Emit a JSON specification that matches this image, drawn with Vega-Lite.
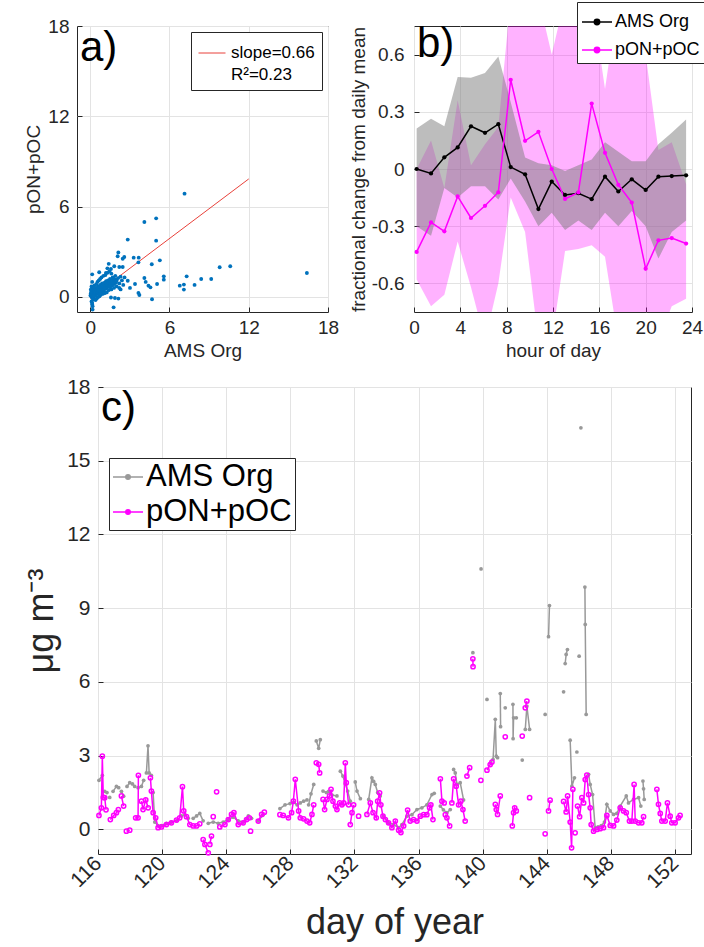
{
"$schema": "https://vega.github.io/schema/vega-lite/v6.json",
"background": "white",
"padding": {"left": 23, "top": 1, "right": 2, "bottom": 2},
"autosize": {"type": "pad"},
"config": {
  "font": "Liberation Sans",
  "view": {"stroke": "#262626", "strokeWidth": 1},
  "axis": {"domain": false, "ticks": true, "tickSize": -5, "tickColor": "#262626", "tickWidth": 1, "grid": true, "gridColor": "#e3e3e3", "gridWidth": 1, "labelColor": "#262626", "titleColor": "#262626", "titleFontWeight": "normal", "labelFlush": false, "labelOverlap": false, "labelFont": "Liberation Sans", "titleFont": "Liberation Sans"},
  "title": {"anchor": "start", "frame": "group", "fontSize": 42, "fontWeight": "normal", "color": "black", "font": "Liberation Sans"},
  "legend": {"labelFont": "Liberation Sans", "labelColor": "black", "labelLimit": 300}
},
"datasets": {
  "fit": [{"x": 0, "y": -0.08}, {"x": 12, "y": 7.84}],
  "sc": [
    {"x":7.14,"y":6.86},{"x":4.1,"y":4.98},{"x":4.99,"y":5.22},{"x":2.84,"y":3.81},{"x":4.99,"y":3.74},{"x":2.13,"y":2.96},{"x":2.58,"y":2.65},{"x":3.29,"y":2.61},{"x":3.67,"y":2.61},{"x":3.65,"y":2.3},{"x":5.27,"y":2.43},{"x":4.66,"y":2.17},{"x":9.8,"y":1.97},{"x":10.6,"y":2.04},{"x":16.4,"y":1.59},{"x":7.3,"y":1.37},{"x":8.4,"y":1.19},{"x":9.16,"y":1.19},{"x":5.57,"y":1.37},{"x":5.57,"y":1.15},{"x":4.1,"y":1.26},{"x":4.2,"y":1.0},{"x":5.06,"y":0.86},{"x":4.41,"y":0.75},{"x":4.56,"y":0.64},{"x":2.84,"y":1.08},{"x":3.39,"y":0.86},{"x":3.01,"y":0.6},{"x":3.65,"y":0.27},{"x":3.72,"y":0.13},{"x":4.68,"y":-0.15},{"x":6.78,"y":0.75},{"x":7.09,"y":0.82},{"x":7.09,"y":0.49},{"x":7.9,"y":0.8},{"x":1.77,"y":-0.69},{"x":1.57,"y":-0.04},{"x":1.87,"y":-0.07},{"x":2.13,"y":-0.11},{"x":0.18,"y":-0.84},{"x":0.18,"y":-0.62},{"x":0.15,"y":-0.4},{"x":0.68,"y":1.64},{"x":0.15,"y":1.5},{"x":1.57,"y":1.86},{"x":1.82,"y":2.04},{"x":2.2,"y":1.99},{"x":2.46,"y":1.99},{"x":1.19,"y":1.59},{"x":2.08,"y":2.7},{"x":2.46,"y":2.54},{"x":1.4,"y":2.2},{"x":1.3,"y":1.9},
    {"x":0.1,"y":0.0},{"x":0.15,"y":0.1},{"x":0.2,"y":-0.1},{"x":0.2,"y":0.2},{"x":0.25,"y":0.3},{"x":0.3,"y":0.05},{"x":0.3,"y":0.4},{"x":0.35,"y":0.2},{"x":0.4,"y":0.5},{"x":0.4,"y":0.1},{"x":0.45,"y":0.3},{"x":0.5,"y":0.6},{"x":0.5,"y":0.2},{"x":0.55,"y":0.4},{"x":0.6,"y":0.7},{"x":0.6,"y":0.3},{"x":0.65,"y":0.5},{"x":0.7,"y":0.2},{"x":0.7,"y":0.6},{"x":0.75,"y":0.8},{"x":0.8,"y":0.4},{"x":0.8,"y":0.55},{"x":0.85,"y":0.7},{"x":0.9,"y":0.3},{"x":0.9,"y":0.9},{"x":0.95,"y":0.5},{"x":1.0,"y":0.65},{"x":1.0,"y":0.8},{"x":1.05,"y":0.4},{"x":1.1,"y":0.7},{"x":1.1,"y":0.95},{"x":1.15,"y":0.55},{"x":1.2,"y":0.8},{"x":1.2,"y":1.05},{"x":1.25,"y":0.6},{"x":1.3,"y":0.9},{"x":1.3,"y":0.7},{"x":1.35,"y":1.1},{"x":1.4,"y":0.8},{"x":1.45,"y":1.0},{"x":1.5,"y":0.65},{"x":1.5,"y":1.2},{"x":1.55,"y":0.9},{"x":1.6,"y":1.05},{"x":1.65,"y":0.75},{"x":1.7,"y":1.3},{"x":1.75,"y":1.0},{"x":1.8,"y":0.85},{"x":1.85,"y":1.15},{"x":1.9,"y":1.4},{"x":1.95,"y":0.95},{"x":2.0,"y":1.1},{"x":2.1,"y":1.25},{"x":2.2,"y":0.9},{"x":2.3,"y":1.35},{"x":2.4,"y":1.1},{"x":0.05,"y":0.5},{"x":0.1,"y":0.7},{"x":0.15,"y":1.0},{"x":0.1,"y":-0.3},{"x":0.15,"y":-0.5},{"x":0.2,"y":0.55},{"x":0.3,"y":0.75},{"x":0.35,"y":0.6},{"x":0.45,"y":0.85},{"x":0.55,"y":1.0},{"x":0.65,"y":1.1},{"x":0.75,"y":1.2},{"x":0.85,"y":1.3},{"x":1.0,"y":1.4},{"x":1.15,"y":1.45},{"x":1.3,"y":1.6},{"x":1.45,"y":1.7},{"x":1.6,"y":1.55},{"x":0.05,"y":0.25},{"x":0.25,"y":-0.15},{"x":0.4,"y":-0.2},{"x":0.5,"y":-0.1},{"x":0.6,"y":0.0},{"x":0.7,"y":0.05},{"x":0.8,"y":0.15},{"x":0.95,"y":0.2},{"x":1.1,"y":0.25},{"x":1.25,"y":0.3},{"x":1.4,"y":0.45},{"x":1.6,"y":0.5},{"x":1.8,"y":0.6},{"x":2.0,"y":0.7},{"x":2.2,"y":0.6},{"x":2.5,"y":0.8},{"x":2.6,"y":1.3},{"x":2.3,"y":0.5},{"x":0.02,"y":0.1},{"x":0.08,"y":0.35},{"x":0.12,"y":0.15},{"x":0.18,"y":0.45},{"x":0.22,"y":0.05},{"x":0.28,"y":0.25},{"x":0.33,"y":0.45},{"x":0.38,"y":0.32},{"x":0.48,"y":0.45},{"x":0.52,"y":0.35},{"x":0.58,"y":0.55},{"x":0.62,"y":0.42},{"x":0.68,"y":0.68},{"x":0.72,"y":0.4},{"x":0.78,"y":0.62},{"x":0.88,"y":0.48},{"x":0.92,"y":0.75},{"x":0.98,"y":0.58},{"x":1.02,"y":0.9},{"x":1.08,"y":0.6},{"x":1.18,"y":0.75},{"x":1.22,"y":0.92},{"x":1.28,"y":0.8},{"x":1.38,"y":0.95},{"x":1.42,"y":0.7},{"x":1.52,"y":1.0},{"x":1.58,"y":0.85},{"x":1.68,"y":1.1},{"x":1.72,"y":0.95},{"x":1.82,"y":1.2},{"x":1.92,"y":1.05}
  ],
  "ba": [
    {"h":0.23,"m":0,"lo":-0.3,"hi":0.212},{"h":1.47,"m":-0.023,"lo":-0.35,"hi":0.264},{"h":2.62,"m":0.061,"lo":-0.1,"hi":0.224},{"h":3.77,"m":0.113,"lo":-0.15,"hi":0.482},{"h":4.92,"m":0.224,"lo":-0.09,"hi":0.478},{"h":6.13,"m":0.19,"lo":-0.09,"hi":0.503},{"h":7.28,"m":0.235,"lo":-0.16,"hi":0.59},{"h":8.35,"m":0.01,"lo":-0.05,"hi":0.35},{"h":9.59,"m":-0.028,"lo":-0.17,"hi":0.06},{"h":10.74,"m":-0.21,"lo":-0.3,"hi":0.03},{"h":11.89,"m":-0.066,"lo":-0.23,"hi":0.02},{"h":13.04,"m":-0.136,"lo":-0.32,"hi":-0.01},{"h":14.19,"m":-0.127,"lo":-0.27,"hi":0.02},{"h":15.34,"m":-0.158,"lo":-0.32,"hi":0.05},{"h":16.49,"m":-0.04,"lo":-0.23,"hi":0.14},{"h":17.64,"m":-0.118,"lo":-0.3,"hi":0.09},{"h":18.8,"m":-0.054,"lo":-0.22,"hi":0.04},{"h":20.0,"m":-0.11,"lo":-0.3,"hi":0.04},{"h":21.1,"m":-0.04,"lo":-0.47,"hi":0.13},{"h":22.25,"m":-0.037,"lo":-0.33,"hi":0.19},{"h":23.49,"m":-0.033,"lo":-0.27,"hi":0.26}
  ],
  "bp": [
    {"h":0.23,"m":-0.435,"lo":-0.58,"hi":0.0},{"h":1.47,"m":-0.28,"lo":-0.72,"hi":0.15},{"h":2.62,"m":-0.327,"lo":-0.66,"hi":-0.1},{"h":3.77,"m":-0.144,"lo":-0.38,"hi":0.36},{"h":4.92,"m":-0.257,"lo":-0.62,"hi":0.02},{"h":6.13,"m":-0.193,"lo":-0.9,"hi":0.13},{"h":7.28,"m":-0.122,"lo":-0.6,"hi":0.22},{"h":8.35,"m":0.468,"lo":-0.15,"hi":0.9},{"h":9.59,"m":0.148,"lo":-0.33,"hi":0.9},{"h":10.74,"m":0.195,"lo":-0.9,"hi":0.9},{"h":11.89,"m":0.0,"lo":-0.9,"hi":0.6},{"h":13.04,"m":-0.157,"lo":-0.43,"hi":0.9},{"h":14.19,"m":-0.123,"lo":-0.42,"hi":0.9},{"h":15.34,"m":0.343,"lo":-0.4,"hi":0.9},{"h":16.49,"m":0.085,"lo":-0.46,"hi":0.42},{"h":17.64,"m":-0.083,"lo":-0.9,"hi":0.9},{"h":18.8,"m":-0.176,"lo":-0.9,"hi":0.9},{"h":20.0,"m":-0.523,"lo":-0.9,"hi":0.6},{"h":21.1,"m":-0.374,"lo":-0.9,"hi":0.1},{"h":22.25,"m":-0.362,"lo":-0.72,"hi":0.14},{"h":23.49,"m":-0.391,"lo":-0.68,"hi":-0.08}
  ],
  "ca": [
    {"d":116.06,"v":2.0,"g":1},{"d":116.27,"v":2.2,"g":1},
    {"d":116.42,"v":1.55,"g":2},{"d":116.56,"v":1.5,"g":2},
    {"d":116.73,"v":1.3,"g":3},
    {"d":116.94,"v":1.55,"g":4},{"d":117.15,"v":1.75,"g":4},{"d":117.29,"v":1.7,"g":4},
    {"d":117.46,"v":1.55,"g":5},{"d":117.6,"v":1.35,"g":5},
    {"d":117.81,"v":1.75,"g":6},{"d":117.98,"v":1.9,"g":6},
    {"d":118.15,"v":1.85,"g":7},{"d":118.29,"v":1.75,"g":7},
    {"d":118.5,"v":1.7,"g":8},{"d":118.71,"v":1.75,"g":8},{"d":118.85,"v":2.0,"g":8},
    {"d":119.02,"v":2.3,"g":9},{"d":119.12,"v":3.4,"g":9},{"d":119.19,"v":2.3,"g":9},{"d":119.33,"v":2.2,"g":9},
    {"d":119.44,"v":1.5,"g":10},{"d":119.54,"v":0.3,"g":10},{"d":119.75,"v":0.15,"g":10},{"d":119.96,"v":0.15,"g":10},{"d":120.27,"v":0.25,"g":10},{"d":120.58,"v":0.3,"g":10},{"d":120.9,"v":0.35,"g":10},
    {"d":121.21,"v":0.55,"g":11},{"d":121.42,"v":0.6,"g":11},{"d":121.63,"v":0.45,"g":11},
    {"d":121.94,"v":0.45,"g":12},{"d":122.15,"v":0.55,"g":12},{"d":122.35,"v":0.65,"g":12},{"d":122.56,"v":0.35,"g":12},
    {"d":122.88,"v":0.25,"g":13},{"d":123.19,"v":0.3,"g":13},{"d":123.5,"v":0.25,"g":13},{"d":123.81,"v":0.3,"g":13},{"d":124.13,"v":0.4,"g":13},{"d":124.44,"v":0.5,"g":13},{"d":124.75,"v":0.35,"g":13},{"d":125.06,"v":0.3,"g":13},{"d":125.38,"v":0.55,"g":13},{"d":125.58,"v":0.45,"g":13},
    {"d":126.0,"v":0.35,"g":14},{"d":126.31,"v":0.6,"g":14},
    {"d":127.35,"v":0.85,"g":15},{"d":127.67,"v":1.0,"g":15},{"d":127.98,"v":1.05,"g":15},{"d":128.21,"v":1.1,"g":15},{"d":128.42,"v":1.0,"g":15},{"d":128.62,"v":1.08,"g":15},{"d":128.83,"v":1.15,"g":15},{"d":129.04,"v":1.2,"g":15},
    {"d":129.14,"v":1.0,"g":16},{"d":129.29,"v":1.45,"g":16},{"d":129.46,"v":1.83,"g":16},
    {"d":129.62,"v":3.6,"g":17},{"d":129.77,"v":3.3,"g":17},{"d":129.87,"v":3.65,"g":17},
    {"d":130.04,"v":1.56,"g":18},{"d":130.25,"v":1.5,"g":18},{"d":130.39,"v":1.55,"g":18},{"d":130.6,"v":1.4,"g":18},{"d":130.91,"v":1.36,"g":18},
    {"d":131.12,"v":2.37,"g":19},{"d":131.28,"v":2.17,"g":19},{"d":131.43,"v":1.85,"g":19},{"d":131.58,"v":1.56,"g":19},{"d":131.74,"v":1.15,"g":19},
    {"d":132.05,"v":1.93,"g":20},{"d":132.16,"v":1.56,"g":20},{"d":132.37,"v":1.25,"g":20},
    {"d":132.89,"v":1.22,"g":21},{"d":133.09,"v":2.1,"g":21},{"d":133.2,"v":1.95,"g":21},{"d":133.3,"v":1.83,"g":21},{"d":133.45,"v":1.5,"g":21},{"d":133.61,"v":1.36,"g":21},
    {"d":133.82,"v":0.54,"g":22},{"d":134.13,"v":0.27,"g":22},{"d":134.44,"v":0.2,"g":22},{"d":134.76,"v":0.07,"g":22},{"d":134.96,"v":0.2,"g":22},{"d":135.28,"v":0.54,"g":22},{"d":135.59,"v":0.6,"g":22},{"d":135.9,"v":0.81,"g":22},{"d":136.21,"v":0.88,"g":22},{"d":136.52,"v":1.0,"g":22},{"d":136.84,"v":1.42,"g":22},{"d":136.98,"v":1.47,"g":22},
    {"d":137.36,"v":0.95,"g":23},{"d":137.55,"v":0.8,"g":23},{"d":137.77,"v":0.68,"g":23},{"d":137.98,"v":0.81,"g":23},
    {"d":138.19,"v":2.44,"g":24},{"d":138.29,"v":2.3,"g":24},{"d":138.4,"v":1.83,"g":24},{"d":138.6,"v":1.9,"g":24},{"d":138.81,"v":1.2,"g":24},
    {"d":139.39,"v":7.19,"g":25},
    {"d":139.9,"v":10.6,"g":26},
    {"d":140.27,"v":5.29,"g":27},
    {"d":140.5,"v":2.7,"g":28},{"d":140.65,"v":2.85,"g":28},{"d":140.79,"v":4.48,"g":28},{"d":140.85,"v":2.98,"g":28},{"d":140.93,"v":2.92,"g":28},
    {"d":141.1,"v":5.53,"g":29},{"d":141.12,"v":4.18,"g":29},
    {"d":141.41,"v":4.95,"g":30},
    {"d":141.89,"v":5.09,"g":31},{"d":141.9,"v":3.69,"g":31},{"d":141.93,"v":4.54,"g":31},{"d":142.1,"v":4.54,"g":31},
    {"d":142.47,"v":2.82,"g":32},
    {"d":142.66,"v":4.07,"g":33},{"d":142.76,"v":5.02,"g":33},{"d":142.93,"v":4.07,"g":33},
    {"d":143.9,"v":4.68,"g":34},
    {"d":144.11,"v":7.84,"g":35},{"d":144.17,"v":9.11,"g":35},
    {"d":145.05,"v":5.6,"g":36},
    {"d":145.15,"v":6.75,"g":37},{"d":145.21,"v":7.12,"g":37},{"d":145.29,"v":7.32,"g":37},
    {"d":145.46,"v":3.63,"g":38},{"d":145.57,"v":1.76,"g":38},{"d":145.73,"v":2.1,"g":38},
    {"d":145.88,"v":3.15,"g":39},
    {"d":146.02,"v":7.05,"g":40},
    {"d":146.13,"v":16.34,"g":41},
    {"d":146.38,"v":9.86,"g":42},{"d":146.4,"v":8.34,"g":42},{"d":146.46,"v":4.68,"g":42},
    {"d":146.61,"v":2.24,"g":43},{"d":146.71,"v":1.83,"g":43},{"d":146.86,"v":1.42,"g":43},{"d":147.02,"v":0.07,"g":43},{"d":147.2,"v":0.1,"g":43},{"d":147.4,"v":0.15,"g":43},{"d":147.6,"v":0.3,"g":43},{"d":147.75,"v":1.02,"g":43},{"d":147.96,"v":0.75,"g":43},{"d":148.17,"v":0.61,"g":43},{"d":148.37,"v":0.65,"g":43},{"d":148.58,"v":0.95,"g":43},{"d":148.96,"v":1.36,"g":43},{"d":149.1,"v":1.08,"g":43},{"d":149.41,"v":1.22,"g":43},{"d":149.73,"v":1.29,"g":43},{"d":149.87,"v":0.95,"g":43},
    {"d":150.0,"v":1.97,"g":44},{"d":150.04,"v":1.65,"g":44},{"d":150.08,"v":1.22,"g":44}
  ],
  "cp": [
    {"d":116.06,"v":0.57,"g":1},{"d":116.21,"v":0.88,"g":1},{"d":116.27,"v":2.98,"g":1},{"d":116.33,"v":1.3,"g":1},{"d":116.42,"v":1.29,"g":1},{"d":116.5,"v":0.8,"g":1},
    {"d":116.77,"v":0.4,"g":2},{"d":116.98,"v":0.57,"g":2},{"d":117.15,"v":0.68,"g":2},{"d":117.27,"v":0.81,"g":2},
    {"d":117.46,"v":1.36,"g":3},{"d":117.6,"v":0.95,"g":3},
    {"d":117.77,"v":-0.07,"g":4},{"d":117.98,"v":-0.03,"g":4},
    {"d":118.35,"v":0.47,"g":5},{"d":118.5,"v":0.47,"g":5},{"d":118.52,"v":2.2,"g":5},
    {"d":118.71,"v":1.15,"g":6},{"d":118.81,"v":0.81,"g":6},{"d":118.98,"v":1.2,"g":6},{"d":119.13,"v":0.88,"g":6},
    {"d":119.27,"v":2.1,"g":7},{"d":119.33,"v":1.56,"g":7},{"d":119.44,"v":0.68,"g":7},{"d":119.6,"v":0.47,"g":7},{"d":119.75,"v":0.07,"g":7},{"d":119.96,"v":0.1,"g":7},{"d":120.27,"v":0.2,"g":7},{"d":120.58,"v":0.27,"g":7},{"d":120.9,"v":0.38,"g":7},{"d":121.1,"v":0.47,"g":7},{"d":121.27,"v":1.74,"g":7},{"d":121.35,"v":0.75,"g":7},{"d":121.52,"v":0.52,"g":7},{"d":121.73,"v":0.2,"g":7},{"d":121.94,"v":0.14,"g":7},{"d":122.15,"v":0.14,"g":7},{"d":122.35,"v":0.23,"g":7},
    {"d":122.56,"v":-0.41,"g":8},{"d":122.67,"v":-0.61,"g":8},{"d":122.88,"v":-0.95,"g":8},
    {"d":122.98,"v":-0.61,"g":9},{"d":123.08,"v":-0.27,"g":9},
    {"d":123.19,"v":0.52,"g":10},
    {"d":123.4,"v":1.53,"g":11},
    {"d":123.6,"v":0.1,"g":12},{"d":123.92,"v":0.2,"g":12},{"d":124.13,"v":0.4,"g":12},{"d":124.33,"v":0.61,"g":12},{"d":124.48,"v":0.68,"g":12},{"d":124.75,"v":0.2,"g":12},{"d":125.06,"v":0.27,"g":12},{"d":125.27,"v":0.4,"g":12},{"d":125.44,"v":0.47,"g":12},
    {"d":125.52,"v":-0.07,"g":13},
    {"d":126.0,"v":0.34,"g":14},{"d":126.21,"v":0.61,"g":14},{"d":126.38,"v":0.7,"g":14},
    {"d":127.35,"v":0.6,"g":15},{"d":127.56,"v":0.57,"g":15},{"d":127.88,"v":0.47,"g":15},{"d":128.08,"v":0.68,"g":15},{"d":128.19,"v":1.15,"g":15},{"d":128.31,"v":2.04,"g":15},{"d":128.52,"v":0.75,"g":15},{"d":128.62,"v":0.47,"g":15},{"d":128.83,"v":0.43,"g":15},{"d":129.04,"v":0.34,"g":15},{"d":129.21,"v":0.27,"g":15},{"d":129.35,"v":0.61,"g":15},{"d":129.46,"v":1.0,"g":15},
    {"d":129.62,"v":2.71,"g":16},{"d":129.77,"v":2.65,"g":16},{"d":129.83,"v":2.3,"g":16},
    {"d":130.04,"v":1.22,"g":17},{"d":130.14,"v":0.81,"g":17},{"d":130.29,"v":1.22,"g":17},{"d":130.45,"v":1.36,"g":17},{"d":130.54,"v":1.63,"g":17},{"d":130.66,"v":1.15,"g":17},{"d":130.81,"v":0.95,"g":17},{"d":130.91,"v":0.81,"g":17},{"d":131.08,"v":1.08,"g":17},{"d":131.22,"v":1.0,"g":17},{"d":131.33,"v":1.08,"g":17},{"d":131.43,"v":2.71,"g":17},{"d":131.49,"v":1.9,"g":17},{"d":131.64,"v":1.0,"g":17},
    {"d":131.74,"v":0.2,"g":18},{"d":131.85,"v":0.68,"g":18},{"d":131.95,"v":1.0,"g":18},
    {"d":132.26,"v":0.54,"g":19},
    {"d":132.78,"v":0.61,"g":20},{"d":132.99,"v":1.08,"g":20},{"d":133.16,"v":0.68,"g":20},{"d":133.36,"v":0.47,"g":20},{"d":133.45,"v":1.15,"g":20},{"d":133.57,"v":1.49,"g":20},{"d":133.65,"v":1.0,"g":20},{"d":133.78,"v":0.54,"g":20},{"d":133.93,"v":0.4,"g":20},{"d":134.13,"v":0.27,"g":20},{"d":134.34,"v":0.07,"g":20},{"d":134.55,"v":0.34,"g":20},{"d":134.76,"v":-0.03,"g":20},{"d":134.9,"v":-0.13,"g":20},{"d":135.07,"v":0.14,"g":20},{"d":135.32,"v":0.79,"g":20},{"d":135.48,"v":0.34,"g":20},{"d":135.69,"v":0.4,"g":20},{"d":135.9,"v":0.34,"g":20},{"d":136.11,"v":0.54,"g":20},{"d":136.32,"v":0.6,"g":20},{"d":136.52,"v":0.6,"g":20},{"d":136.69,"v":0.88,"g":20},{"d":136.77,"v":1.0,"g":20},{"d":136.9,"v":0.4,"g":20},
    {"d":137.36,"v":2.06,"g":21},{"d":137.46,"v":1.15,"g":21},{"d":137.6,"v":1.08,"g":21},
    {"d":137.67,"v":0.6,"g":22},{"d":137.77,"v":0.47,"g":22},{"d":137.94,"v":0.14,"g":22},
    {"d":138.08,"v":1.08,"g":23},{"d":138.19,"v":2.06,"g":23},{"d":138.35,"v":1.76,"g":23},{"d":138.5,"v":1.0,"g":23},{"d":138.64,"v":1.15,"g":23},{"d":138.77,"v":0.81,"g":23},{"d":138.91,"v":0.34,"g":23},
    {"d":139.02,"v":2.17,"g":24},{"d":139.19,"v":2.51,"g":24},
    {"d":139.39,"v":6.94,"g":25},{"d":139.4,"v":6.62,"g":25},
    {"d":139.89,"v":2.0,"g":26},
    {"d":140.27,"v":2.41,"g":27},{"d":140.47,"v":2.64,"g":27},{"d":140.58,"v":2.74,"g":27},
    {"d":140.79,"v":1.02,"g":28},{"d":140.85,"v":0.81,"g":28},{"d":140.93,"v":0.61,"g":28},{"d":141.1,"v":1.36,"g":28},
    {"d":141.41,"v":3.77,"g":29},
    {"d":141.85,"v":0.14,"g":30},{"d":141.93,"v":0.68,"g":30},{"d":142.0,"v":0.88,"g":30},{"d":142.1,"v":0.75,"g":30},
    {"d":142.47,"v":3.8,"g":31},
    {"d":142.66,"v":4.95,"g":32},{"d":142.76,"v":5.22,"g":32},
    {"d":142.93,"v":1.29,"g":33},
    {"d":143.9,"v":-0.18,"g":34},
    {"d":144.11,"v":0.75,"g":35},{"d":144.21,"v":1.19,"g":35},
    {"d":145.05,"v":1.14,"g":36},{"d":145.21,"v":0.71,"g":36},{"d":145.3,"v":1.36,"g":36},{"d":145.46,"v":0.3,"g":36},{"d":145.55,"v":-0.75,"g":36},{"d":145.63,"v":1.63,"g":36},
    {"d":145.77,"v":-0.14,"g":37},
    {"d":145.92,"v":0.95,"g":38},{"d":146.05,"v":0.52,"g":38},{"d":146.19,"v":1.29,"g":38},{"d":146.3,"v":1.08,"g":38},{"d":146.4,"v":2.03,"g":38},{"d":146.5,"v":2.21,"g":38},{"d":146.61,"v":1.42,"g":38},{"d":146.71,"v":0.88,"g":38},{"d":146.77,"v":0.2,"g":38},{"d":146.92,"v":-0.07,"g":38},{"d":147.13,"v":0.0,"g":38},{"d":147.33,"v":0.03,"g":38},{"d":147.54,"v":0.07,"g":38},{"d":147.75,"v":0.57,"g":38},{"d":147.96,"v":0.16,"g":38},{"d":148.17,"v":0.14,"g":38},{"d":148.37,"v":0.38,"g":38},{"d":148.58,"v":0.88,"g":38},{"d":148.79,"v":0.75,"g":38},{"d":148.96,"v":0.68,"g":38},{"d":149.16,"v":0.34,"g":38},{"d":149.31,"v":0.34,"g":38},{"d":149.45,"v":1.83,"g":38},{"d":149.52,"v":0.34,"g":38},{"d":149.73,"v":0.27,"g":38},{"d":149.93,"v":0.27,"g":38},{"d":150.04,"v":0.52,"g":38},
    {"d":150.87,"v":1.63,"g":39},{"d":150.97,"v":1.02,"g":39},{"d":151.08,"v":0.65,"g":39},{"d":151.18,"v":0.34,"g":39},{"d":151.39,"v":0.34,"g":39},{"d":151.53,"v":1.08,"g":39},{"d":151.7,"v":0.54,"g":39},{"d":151.8,"v":0.27,"g":39},{"d":152.01,"v":0.27,"g":39},{"d":152.22,"v":0.47,"g":39},{"d":152.32,"v":0.57,"g":39}
  ]
},
"spacing": 14,
"resolve": {"scale": {"color": "independent"}, "legend": {"color": "independent"}},
"vconcat": [
  {
    "hconcat": [
      {
        "width": 251, "height": 286,
        "title": {"text": "a)", "offset": -53, "dx": 3},
        "layer": [
          {
            "data": {"name": "fit"},
            "mark": {"type": "line", "strokeWidth": 1},
            "encoding": {
              "x": {"field": "x", "type": "quantitative", "scale": {"domain": [-1, 18], "nice": false, "zero": false}, "axis": {"values": [0, 6, 12, 18], "title": "AMS Org", "labelFontSize": 19, "titleFontSize": 19, "labelPadding": 11, "titlePadding": 4, "labelOverlap": false}},
              "y": {"field": "y", "type": "quantitative", "scale": {"domain": [-1, 18], "nice": false, "zero": false}, "axis": {"values": [0, 6, 12, 18], "title": "pON+pOC", "labelFontSize": 19, "titleFontSize": 19, "labelPadding": 13, "titlePadding": 4, "labelOverlap": false}},
              "color": {"datum": "slope=0.66", "scale": {"range": ["#e8413a"]}, "legend": {"orient": "none", "legendX": 114, "legendY": 6, "title": null, "labelExpr": "['slope=0.66', 'R²=0.23']", "labelFontSize": 17, "symbolType": "stroke", "symbolSize": 729, "symbolStrokeWidth": 1, "strokeColor": "#262626", "fillColor": "white", "padding": 7, "labelOffset": 5, "encode": {"labels": {"update": {"lineHeight": {"value": 22}}}}}}
            }
          },
          {
            "data": {"name": "sc"},
            "mark": {"type": "circle", "size": 15, "color": "#0072BD", "opacity": 1},
            "encoding": {
              "x": {"field": "x", "type": "quantitative"},
              "y": {"field": "y", "type": "quantitative"}
            }
          }
        ]
      },
      {
        "width": 278, "height": 286,
        "title": {"text": "b)", "offset": -64, "dx": 3},
        "layer": [
          {
            "data": {"name": "bp"},
            "mark": {"type": "area", "color": "#ff00ff", "opacity": 0.3, "clip": true},
            "encoding": {
              "x": {"field": "h", "type": "quantitative", "scale": {"domain": [0, 24], "nice": false, "zero": false}, "axis": {"values": [0, 4, 8, 12, 16, 20, 24], "title": "hour of day", "labelFontSize": 19, "titleFontSize": 19, "labelPadding": 11, "titlePadding": 4, "labelOverlap": false}},
              "y": {"field": "lo", "type": "quantitative", "scale": {"domain": [-0.75, 0.75], "nice": false, "zero": false}, "axis": {"values": [-0.6, -0.3, 0, 0.3, 0.6], "labelExpr": "datum.value == 0 ? '0' : replace(format(datum.value, '.1f'), '−', '-')", "title": "fractional change from daily mean", "labelFontSize": 19, "titleFontSize": 19, "labelPadding": 15, "titlePadding": 3, "labelOverlap": false}},
              "y2": {"field": "hi"}
            }
          },
          {
            "data": {"name": "ba"},
            "mark": {"type": "area", "color": "#7b7b7b", "opacity": 0.5, "clip": true},
            "encoding": {
              "x": {"field": "h", "type": "quantitative"},
              "y": {"field": "lo", "type": "quantitative"},
              "y2": {"field": "hi"}
            }
          },
          {
            "data": {"name": "ba"},
            "mark": {"type": "line", "strokeWidth": 1.5},
            "encoding": {
              "x": {"field": "h", "type": "quantitative"},
              "y": {"field": "m", "type": "quantitative"},
              "color": {"datum": "AMS Org", "scale": {"domain": ["AMS Org", "pON+pOC"], "range": ["black", "#ff00ff"]}, "legend": {"orient": "none", "legendX": 163, "legendY": -24, "title": null, "labelFontSize": 18, "symbolType": "M-1,0H1M-0.18,0A0.18,0.18,0,1,1,0.18,0A0.18,0.18,0,1,1,-0.18,0", "symbolSize": 900, "symbolStrokeWidth": 1.5, "strokeColor": "#262626", "fillColor": "white", "padding": 4, "rowPadding": 3, "labelOffset": 2, "encode": {"symbols": {"update": {"fill": {"signal": "datum.value === 'AMS Org' ? 'black' : '#ff00ff'"}, "stroke": {"signal": "datum.value === 'AMS Org' ? 'black' : '#ff00ff'"}}}}}}
            }
          },
          {
            "data": {"name": "bp"},
            "mark": {"type": "line", "strokeWidth": 1.5},
            "encoding": {
              "x": {"field": "h", "type": "quantitative"},
              "y": {"field": "m", "type": "quantitative"},
              "color": {"datum": "pON+pOC"}
            }
          },
          {
            "data": {"name": "ba"},
            "mark": {"type": "circle", "size": 18, "opacity": 1},
            "encoding": {
              "x": {"field": "h", "type": "quantitative"},
              "y": {"field": "m", "type": "quantitative"},
              "color": {"datum": "AMS Org", "legend": null}
            }
          },
          {
            "data": {"name": "bp"},
            "mark": {"type": "circle", "size": 18, "opacity": 1},
            "encoding": {
              "x": {"field": "h", "type": "quantitative"},
              "y": {"field": "m", "type": "quantitative"},
              "color": {"datum": "pON+pOC", "legend": null}
            }
          }
        ]
      }
    ],
    "spacing": 86,
    "bounds": "flush",
    "resolve": {"scale": {"color": "independent"}, "legend": {"color": "independent"}}
  },
  {
    "hconcat": [
      {
        "width": 1, "height": 20,
        "data": {"values": [{"a": 1}]},
        "mark": {"type": "point", "opacity": 0},
        "encoding": {},
        "view": {"stroke": null}
      },
      {
        "width": 593, "height": 467,
        "title": {"text": "c)", "offset": -54, "dx": 3},
        "layer": [
          {
            "data": {"name": "ca"},
            "mark": {"type": "line", "strokeWidth": 1.5},
            "encoding": {
              "x": {"field": "d", "type": "quantitative", "scale": {"domain": [116, 153], "nice": false, "zero": false}, "axis": {"values": [116,118,120,122,124,126,128,130,132,134,136,138,140,142,144,146,148,150,152], "title": "day of year", "labelFontSize": 21, "titleFontSize": 36, "labelAngle": -45, "labelAlign": "right", "labelBaseline": "middle", "labelPadding": 11, "titlePadding": 14, "labelOverlap": false}},
              "y": {"field": "v", "type": "quantitative", "scale": {"domain": [-1, 18], "nice": false, "zero": false}, "axis": {"values": [0, 3, 6, 9, 12, 15, 18], "title": "μg m⁻³", "labelFontSize": 21, "titleFontSize": 36, "labelPadding": 13, "titlePadding": 6, "labelOverlap": false}},
              "detail": {"field": "g", "type": "nominal"},
              "color": {"datum": "AMS Org", "scale": {"domain": ["AMS Org", "pON+pOC"], "range": ["#999999", "#ff00ff"]}, "legend": {"orient": "none", "legendX": 11, "legendY": 71, "title": null, "labelFontSize": 31, "symbolType": "M-1,0H1M-0.15,0A0.15,0.15,0,1,1,0.15,0A0.15,0.15,0,1,1,-0.15,0", "symbolSize": 900, "symbolStrokeWidth": 1.5, "strokeColor": "#262626", "fillColor": "white", "padding": 3, "rowPadding": 4, "labelOffset": 2, "encode": {"symbols": {"update": {"fill": {"signal": "datum.value === 'AMS Org' ? '#999999' : '#ff00ff'"}, "stroke": {"signal": "datum.value === 'AMS Org' ? '#999999' : '#ff00ff'"}}}}}}
            }
          },
          {
            "data": {"name": "ca"},
            "mark": {"type": "circle", "size": 14, "opacity": 1},
            "encoding": {
              "x": {"field": "d", "type": "quantitative"},
              "y": {"field": "v", "type": "quantitative"},
              "color": {"datum": "AMS Org", "legend": null}
            }
          },
          {
            "data": {"name": "cp"},
            "mark": {"type": "line", "strokeWidth": 1.5},
            "encoding": {
              "x": {"field": "d", "type": "quantitative"},
              "y": {"field": "v", "type": "quantitative"},
              "detail": {"field": "g", "type": "nominal"},
              "color": {"datum": "pON+pOC"}
            }
          },
          {
            "data": {"name": "cp"},
            "mark": {"type": "point", "filled": false, "size": 18, "strokeWidth": 1.5, "opacity": 1},
            "encoding": {
              "x": {"field": "d", "type": "quantitative"},
              "y": {"field": "v", "type": "quantitative"},
              "color": {"datum": "pON+pOC", "legend": null}
            }
          }
        ]
      }
    ],
    "spacing": 20,
    "bounds": "flush",
    "resolve": {"scale": {"color": "independent"}, "legend": {"color": "independent"}}
  }
]
}
